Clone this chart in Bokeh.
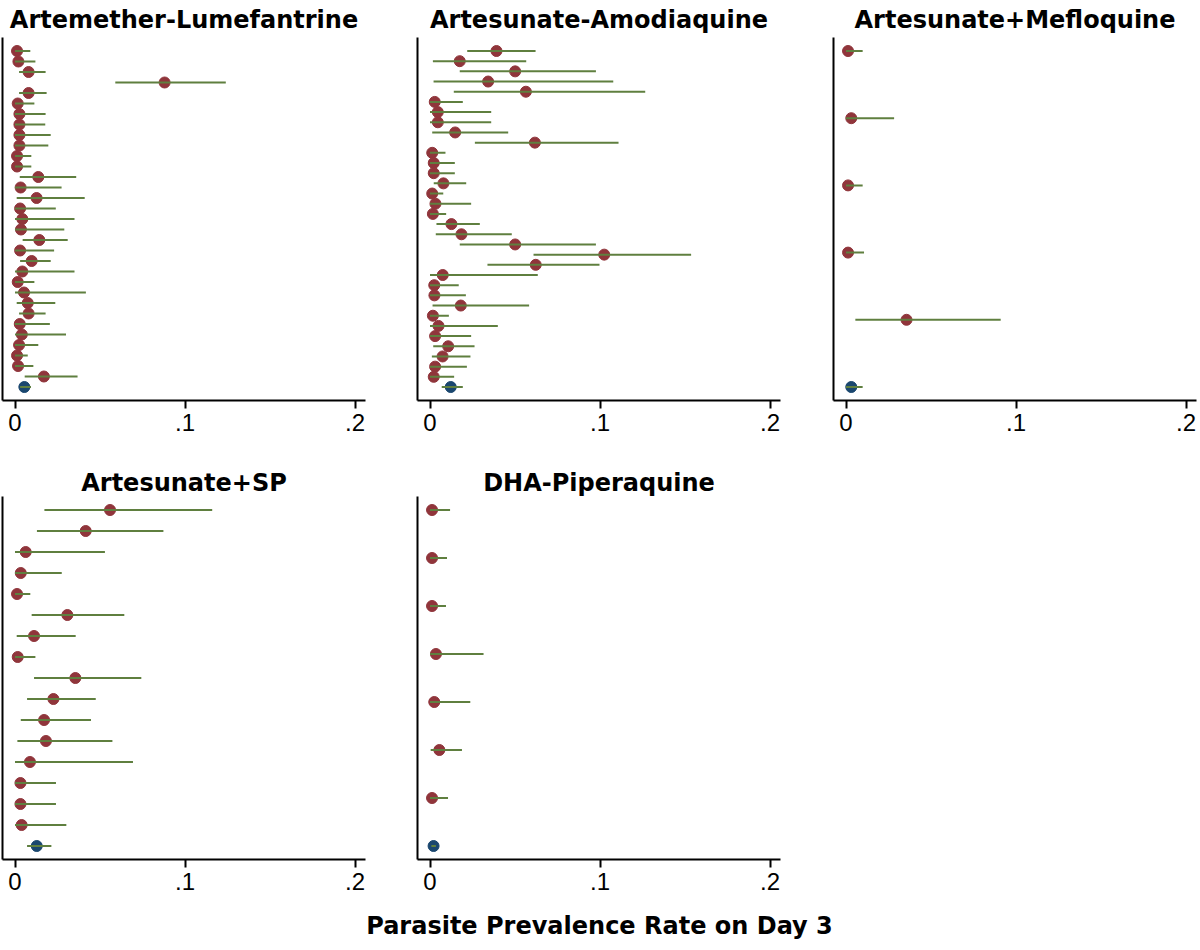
from bokeh.plotting import figure
from bokeh.layouts import column, row
from bokeh.models import Range1d, FixedTicker, Label
from bokeh.embed import file_html
from bokeh.resources import INLINE

# ---------------- data ----------------
titles = ["Artemether-Lumefantrine", "Artesunate-Amodiaquine", "Artesunate+Mefloquine",
          "Artesunate+SP", "DHA-Piperaquine"]

al_est = [0.0012, 0.002, 0.008, 0.088, 0.008, 0.0016, 0.0026, 0.0026, 0.0026, 0.0026, 0.0012, 0.0012,
          0.0137, 0.0033, 0.0127, 0.003, 0.0043, 0.0035, 0.0143, 0.003, 0.0098, 0.0043, 0.0016, 0.0053,
          0.0075, 0.008, 0.0028, 0.004, 0.0024, 0.0012, 0.0018, 0.017]
al_lo = [0, 0, 0.0024, 0.059, 0.0024, 0, 0, 0, 0, 0, 0, 0,
         0.0028, 0, 0.001, 0, 0, 0, 0.0045, 0, 0.003, 0, 0, 0,
         0.001, 0.0024, 0, 0, 0, 0, 0, 0.0057]
al_hi = [0.009, 0.012, 0.018, 0.124, 0.0186, 0.0114, 0.018, 0.0178, 0.021, 0.0196, 0.0096, 0.0096,
         0.036, 0.0274, 0.041, 0.024, 0.035, 0.029, 0.031, 0.023, 0.021, 0.035, 0.0114, 0.0417,
         0.0237, 0.018, 0.0205, 0.030, 0.0137, 0.0075, 0.0108, 0.0368]
al_pooled = [0.0055, 0.003, 0.0094]

asaq_est = [0.0391, 0.0175, 0.0501, 0.0342, 0.0564, 0.0028, 0.0046, 0.0046, 0.0148, 0.0617, 0.0013,
            0.0022, 0.0022, 0.0079, 0.0013, 0.0032, 0.0017, 0.0126, 0.0185, 0.0501, 0.1025, 0.0622,
            0.0075, 0.0025, 0.0026, 0.0181, 0.0017, 0.005, 0.003, 0.0107, 0.0074, 0.003, 0.0022]
asaq_lo = [0.0219, 0.0017, 0.0175, 0.0021, 0.014, 0, 0, 0, 0.0013, 0.0264, 0,
           0, 0, 0.0022, 0, 0, 0, 0.0038, 0.0034, 0.0175, 0.0609, 0.0338,
           0, 0, 0, 0.0015, 0, 0, 0, 0.0019, 0.0011, 0, 0]
asaq_hi = [0.0621, 0.0566, 0.0976, 0.1078, 0.1266, 0.0193, 0.036, 0.036, 0.046, 0.1109, 0.0091,
           0.0146, 0.0146, 0.0213, 0.0078, 0.0242, 0.0095, 0.0293, 0.0481, 0.0976, 0.1536, 0.0997,
           0.0634, 0.0169, 0.0211, 0.0583, 0.0111, 0.0399, 0.0242, 0.0262, 0.0238, 0.0217, 0.0142]
asaq_pooled = [0.0122, 0.0069, 0.0193]

asmq_est = [0.0012, 0.0031, 0.0012, 0.0012, 0.0356]
asmq_lo = [0, 0, 0, 0, 0.0055]
asmq_hi = [0.0098, 0.0283, 0.0098, 0.0106, 0.091]
asmq_pooled = [0.0031, 0.0, 0.0098]

assp_est = [0.0559, 0.0416, 0.0063, 0.0034, 0.0012, 0.0308, 0.0112, 0.0016, 0.0355, 0.0226, 0.0171,
            0.0182, 0.0088, 0.0032, 0.0032, 0.0039]
assp_lo = [0.0173, 0.0129, 0, 0, 0, 0.0098, 0.001, 0, 0.0112, 0.0071, 0.0034,
           0.0014, 0, 0, 0, 0]
assp_hi = [0.116, 0.0873, 0.0529, 0.0275, 0.009, 0.0643, 0.0357, 0.012, 0.0743, 0.0475, 0.0447,
           0.0573, 0.0694, 0.0241, 0.0241, 0.0302]
assp_pooled = [0.0128, 0.0071, 0.0214]

dha_est = [0.0012, 0.0012, 0.0012, 0.0035, 0.0025, 0.0055, 0.0012]
dha_lo = [0, 0, 0, 0, 0, 0.0004, 0]
dha_hi = [0.0118, 0.01, 0.0094, 0.0315, 0.0237, 0.0188, 0.0106]
dha_pooled = [0.0021, 0.0008, 0.0035]

xticks = [0, 0.1, 0.2]
xtick_labels = ["0", ".1", ".2"]
xlabel = "Parasite Prevalence Rate on Day 3"

# ---------------- styles ----------------
STUDY = "#90353B"
POOLED = "#1A476F"
CI = "#5F7F3F"
FONT = "Liberation Sans"
TFONT = "DejaVu Sans"
PX_PER_UNIT = 1700.0
FRAME_H = 363


def panel(title, est, lo, hi, pooled, frame_w, mb_left, mb_right, mb_top, mb_bottom, standoff):
    xs = list(est) + [pooled[0]]
    los = list(lo) + [pooled[1]]
    his = list(hi) + [pooled[2]]
    n = len(xs)
    ys = list(range(1, n + 1))
    pad = 13.5 * (n - 1) / (FRAME_H - 27)
    x0 = -12.5 / PX_PER_UNIT
    p = figure(frame_width=frame_w, frame_height=FRAME_H,
               x_range=Range1d(x0, x0 + frame_w / PX_PER_UNIT),
               y_range=Range1d(n + pad, 1 - pad),
               output_backend="svg", toolbar_location=None, title=title,
               min_border_left=mb_left, min_border_right=mb_right,
               min_border_top=mb_top, min_border_bottom=mb_bottom)
    colors = [STUDY] * (n - 1) + [POOLED]
    p.scatter(xs, ys, size=11, color=colors, line_color=colors)
    p.segment(x0=los, y0=ys, x1=his, y1=ys, line_color=CI, line_width=2)

    p.title.text_font = TFONT
    p.title.text_font_size = "24px"
    p.title.text_font_style = "bold"
    p.title.align = "center"
    p.title.standoff = standoff
    p.title.text_color = "black"

    p.xgrid.visible = False
    p.ygrid.visible = False
    p.outline_line_color = None
    p.background_fill_color = "white"
    p.border_fill_color = "white"

    p.xaxis.ticker = FixedTicker(ticks=xticks)
    p.xaxis.major_label_overrides = dict(zip(xticks, xtick_labels))
    p.xaxis.axis_line_width = 2
    p.xaxis.axis_line_color = "black"
    p.xaxis.major_tick_line_width = 2
    p.xaxis.major_tick_line_color = "black"
    p.xaxis.major_tick_out = 8
    p.xaxis.major_tick_in = 0
    p.xaxis.minor_tick_line_color = None
    p.xaxis.major_label_text_font = FONT
    p.xaxis.major_label_text_font_size = "24px"
    p.xaxis.major_label_text_color = "black"
    p.xaxis.major_label_standoff = 5

    p.yaxis.ticker = FixedTicker(ticks=[])
    p.yaxis.axis_line_width = 2
    p.yaxis.axis_line_color = "black"
    p.yaxis.major_tick_line_color = None
    p.yaxis.minor_tick_line_color = None
    p.yaxis.major_tick_out = 0
    p.yaxis.major_label_standoff = 0
    p.yaxis.major_label_text_font_size = "0px"
    return p


p1 = panel(titles[0], al_est, al_lo, al_hi, al_pooled, 363, 2, 50, 37, 66, 7)
p2 = panel(titles[1], asaq_est, asaq_lo, asaq_hi, asaq_pooled, 363, 2, 51, 37, 66, 7)
p3 = panel(titles[2], asmq_est, asmq_lo, asmq_hi, asmq_pooled, 363, 2, 4, 37, 66, 7)
p4 = panel(titles[3], assp_est, assp_lo, assp_hi, assp_pooled, 363, 2, 50, 30, 52, 0)
p5 = panel(titles[4], dha_est, dha_lo, dha_hi, dha_pooled, 363, 2, 51, 30, 52, 0)

lab = figure(width=1200, height=35, x_range=Range1d(0, 1), y_range=Range1d(0, 1),
             output_backend="svg", toolbar_location=None, min_border=0)
lab.axis.visible = False
lab.grid.visible = False
lab.outline_line_color = None
lab.add_layout(Label(x=599, y=21, x_units="screen", y_units="screen", text=xlabel,
                     text_font=TFONT, text_font_size="24px", text_font_style="bold",
                     text_align="center", text_baseline="alphabetic", text_color="black"))

layout = column(row(p1, p2, p3), row(p4, p5), lab)

with open("out.html", "w") as f:
    f.write(file_html(layout, INLINE))
